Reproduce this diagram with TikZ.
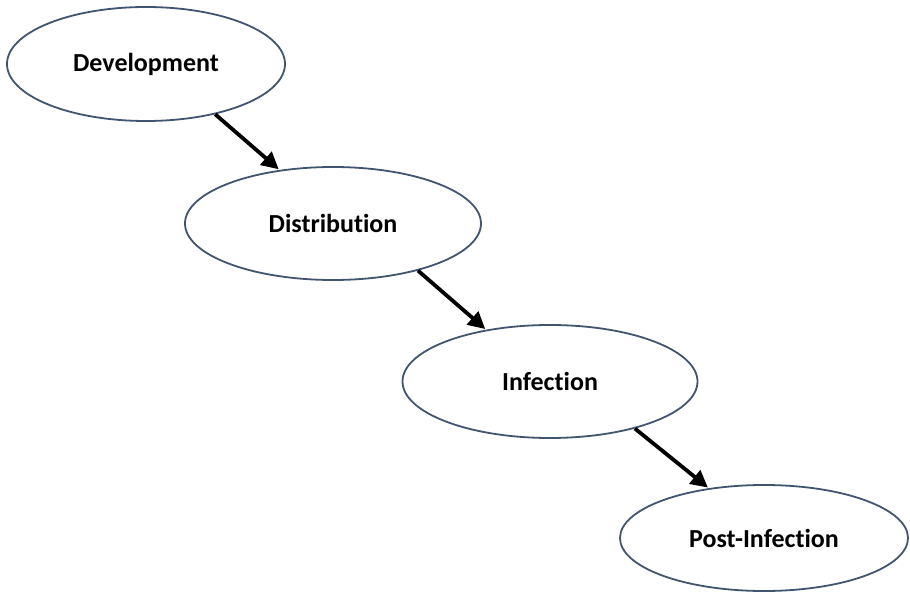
\documentclass[tikz,border=0pt]{standalone}
\usepackage{fontspec}
\setmainfont{Carlito}[Ligatures=NoCommon]
\usetikzlibrary{shapes.geometric,arrows.meta}
\definecolor{edgeblue}{HTML}{41556E}
\tikzset{
  stage/.style={ellipse, draw=edgeblue, line width=1.8pt, fill=white, inner sep=0pt,
    font=\fontsize{26}{30}\selectfont\bfseries, text=black},
  flow/.style={line width=3.8pt, draw=black, -{Triangle[length=17pt,width=17pt]}, shorten >=1pt}
}
\begin{document}
\begin{tikzpicture}[x=1pt,y=-1pt]
\useasboundingbox (0,0) rectangle (910,593);
\node[stage, minimum width=278pt, minimum height=114pt] (dev) at (146,64) {Development};
\node[stage, minimum width=296pt, minimum height=113pt] (dis) at (333,223.5) {Distribution};
\node[stage, minimum width=295pt, minimum height=113pt] (inf) at (550,381.5) {Infection};
\node[stage, minimum width=288pt, minimum height=106pt] (post) at (764,538) {Post-Infection};
\draw[flow] (dev.-36.5) -- (dis.135.8);
\draw[flow] (dis.-29) -- (inf.141);
\draw[flow] (inf.-29) -- (post.138);
\end{tikzpicture}
\end{document}
